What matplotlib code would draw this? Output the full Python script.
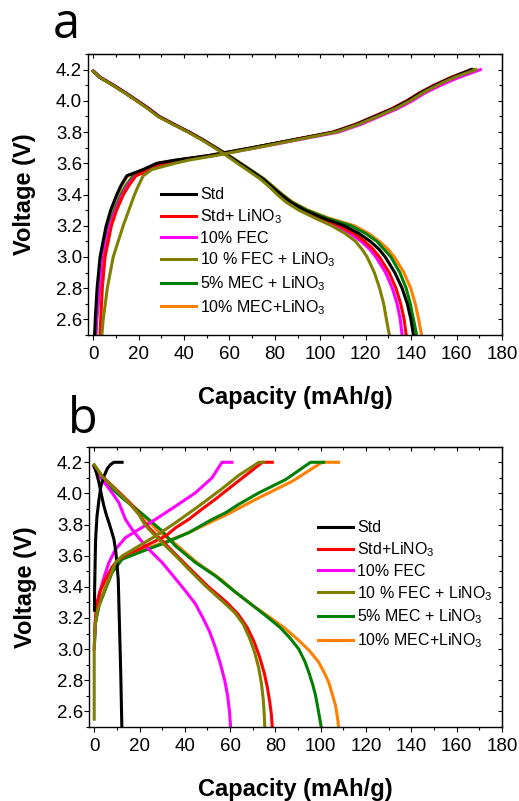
import matplotlib
matplotlib.use('Agg')
import matplotlib.pyplot as plt
from matplotlib.ticker import MultipleLocator

plt.rcParams['font.family'] = ['Liberation Sans', 'DejaVu Sans']
plt.rcParams['mathtext.default'] = 'regular'

# Colours / labels (Origin style)
colors = ['#000000', '#FF0000', '#FF00FF', '#808000', '#008000', '#FF8000']
labels_a = ['Std', 'Std+ LiNO$_3$', '10% FEC', '10 % FEC + LiNO$_3$',
            '5% MEC + LiNO$_3$', '10% MEC+LiNO$_3$']
labels_b = ['Std', 'Std+LiNO$_3$', '10% FEC', '10 % FEC + LiNO$_3$',
            '5% MEC + LiNO$_3$', '10% MEC+LiNO$_3$']

# ---- panel a: charge, capacity (mAh/g) read at shared voltages ----
a_chg_v = [2.5, 2.6, 2.8, 3.0, 3.2, 3.3, 3.4, 3.46, 3.52, 3.56, 3.6, 3.62, 3.65,
           3.7, 3.75, 3.8, 3.85, 3.9, 3.95, 4.0, 4.05, 4.1, 4.15, 4.2]
a_chg_std = [0.6, 0.9, 1.7, 3.0, 5.7, 7.7, 10.4, 12.3, 14.8, 22, 28, 36, 51,
             70, 88, 106, 116, 124, 132, 138.5, 144, 150.6, 158, 166.5]
a_chg_std_lino3 = [3.0, 3.3, 4.0, 5.2, 8.0, 10.3, 13.3, 15.8, 18.8, 25, 31, 38, 52.5,
                   70.5, 88, 105.5, 115.5, 123.5, 131.5, 138, 143.5, 150, 157.5, 166.5]
a_chg_fec = [1.0, 1.4, 2.8, 4.4, 7.3, 9.8, 12.8, 15.2, 18.5, 25, 31, 38.5, 53,
             72, 90, 108, 118, 126, 134, 140.5, 146, 153, 161, 170.5]
a_chg_fec_lino3 = [3.8, 4.4, 6.2, 8.8, 13.2, 15.7, 18.2, 20.0, 22.0, 25.8, 36, 42, 54,
                   72, 89.5, 107, 117, 125, 133, 139.5, 145, 151.5, 159, 168.5]
a_chg_mec5 = [1.2, 1.6, 2.7, 4.1, 7.0, 9.3, 12.2, 14.5, 17.6, 24, 30, 37.5, 52,
              70.5, 88.5, 106.5, 116.5, 124.5, 132.5, 139, 144.5, 151, 158.5, 167.5]
a_chg_mec10 = [0.8, 1.1, 2.0, 3.3, 6.0, 8.0, 10.8, 12.7, 15.2, 22.5, 28.5, 36.5, 51,
               70, 88, 106, 116, 124, 132, 138.5, 144, 150.6, 158, 166.5]

# ---- panel a: discharge ----
a_dis_v = [4.19, 4.15, 4.1, 4.05, 4.0, 3.95, 3.9, 3.85, 3.8, 3.75, 3.7, 3.65, 3.6,
           3.55, 3.5, 3.45, 3.4, 3.35, 3.3, 3.25, 3.2, 3.15, 3.1, 3.05, 3.0,
           2.9, 2.8, 2.7, 2.6, 2.5]
a_dis_std = [0, 3, 8.8, 14.2, 19.3, 24.3, 28.8, 35.3, 42, 48.2, 53.8, 59.3, 64.5,
             69.6, 74.6, 78.6, 82.6, 87, 93, 101, 110.5, 117, 122, 125.8, 128.6,
             132.8, 136, 138.3, 139.9, 141]
a_dis_std_lino3 = [0, 3, 8.8, 14.2, 19.3, 24.3, 28.8, 35.3, 42, 48.2, 53.8, 59.2, 64.3,
                   69.4, 74.3, 78.3, 82.2, 86.5, 92.3, 99.8, 108.5, 114.8, 119.5, 123.2, 126,
                   130.3, 133.3, 135.4, 136.9, 137.8]
a_dis_fec = [0.2, 3.3, 9.1, 14.5, 19.6, 24.6, 29.1, 35.6, 42.3, 48.3, 53.8, 59.1, 64.1,
             69.1, 74, 78, 81.8, 86, 91.5, 99, 107, 113.2, 118, 121.7, 124.5,
             128.7, 131.7, 133.8, 135.2, 136]
a_dis_fec_lino3 = [0, 3, 8.6, 14.0, 19.1, 24, 28.5, 35, 41.7, 47.8, 53.3, 58.6, 63.5,
                   68.5, 73.5, 77.5, 81, 85, 90.5, 97.5, 105, 111, 115.5, 118.3, 120.6,
                   123.8, 126.1, 127.9, 129.1, 130.4]
a_dis_mec5 = [0, 3, 8.8, 14.2, 19.4, 24.5, 29, 35.5, 42.2, 48.4, 54, 59.6, 64.8,
              70, 75.1, 79, 83, 87.5, 94, 102.5, 113.5, 120, 124.9, 128, 131.1,
              135, 137.8, 139.6, 141, 142.4]
a_dis_mec10 = [0, 3, 8.8, 14.2, 19.4, 24.5, 29, 35.5, 42.2, 48.4, 54, 59.7, 65,
               70.2, 75.3, 79.3, 83.4, 88, 94.6, 103.5, 115, 121.3, 126, 129.8, 132.6,
               136.8, 139.8, 141.8, 143.3, 144.6]

# ---- panel b: (capacity, voltage) pairs per cell ----
b_std_chg_c = [0.1, 0.2, 0.4, 0.6, 1.2, 2.1, 3.0, 4.3, 5.8, 7.2, 8.7, 12.3]
b_std_chg_v = [3.25, 3.4, 3.55, 3.7, 3.85, 3.96, 4.05, 4.11, 4.16, 4.185, 4.2, 4.2]
b_std_dis_c = [0, 1.0, 2.1, 3.2, 4.3, 5.4, 6.5, 7.6, 8.7, 9.5, 10.1, 10.6, 11.2, 11.7, 12.2]
b_std_dis_v = [4.175, 4.13, 4.07, 3.99, 3.918, 3.86, 3.812, 3.76, 3.705, 3.63, 3.534,
               3.449, 3.129, 2.85, 2.5]

b_std_lino3_chg_c = [0, 0.3, 1.0, 2.5, 5.0, 8.0, 10.9, 15, 19.7, 25, 31.5, 36, 41.7,
                     47, 53.5, 58, 63.7, 69, 74.2, 78.6]
b_std_lino3_chg_v = [3.0, 3.15, 3.27, 3.37, 3.449, 3.53, 3.577, 3.615, 3.641, 3.68,
                     3.726, 3.78, 3.833, 3.893, 3.963, 4.015, 4.08, 4.14, 4.2, 4.2]
b_std_lino3_dis_c = [0, 3.5, 9.4, 15.3, 19.7, 22, 24.5, 29, 36.5, 42.5, 50, 58.5,
                     63.5, 67.5, 70.5, 73, 75, 76.5, 77.5, 78.2, 78.6]
b_std_lino3_dis_v = [4.18, 4.11, 4.03, 3.945, 3.87, 3.82, 3.775, 3.71, 3.6, 3.513,
                     3.406, 3.3, 3.225, 3.14, 3.05, 2.95, 2.85, 2.75, 2.66, 2.58, 2.5]

b_fec_chg_c = [0.3, 0.6, 1.3, 2.8, 4.5, 6.5, 9.4, 13.8, 19.7, 27, 35.9, 44.7, 52, 56.4, 60.8]
b_fec_chg_v = [3.1, 3.2, 3.3, 3.385, 3.47, 3.556, 3.641, 3.716, 3.769, 3.833, 3.918,
               4.004, 4.1, 4.2, 4.2]
b_fec_dis_c = [0, 3.5, 7.9, 10.9, 13.8, 16.7, 22.6, 30, 36, 40.5, 44.7, 48, 51,
               53.5, 55.8, 57.6, 58.9, 59.7, 60.2]
b_fec_dis_v = [4.166, 4.089, 4.004, 3.94, 3.833, 3.769, 3.662, 3.556, 3.45, 3.37, 3.29,
               3.2, 3.11, 3.01, 2.9, 2.8, 2.7, 2.6, 2.5]

b_fec_lino3_chg_c = [0, 0, 0.4, 1.3, 3.5, 6.5, 9.4, 12.3, 19.7, 27, 35.9, 46.1, 56.4,
                     63.7, 72.7, 74.9]
b_fec_lino3_chg_v = [2.55, 3.0, 3.15, 3.24, 3.34, 3.45, 3.556, 3.598, 3.662, 3.726,
                     3.812, 3.918, 4.03, 4.115, 4.2, 4.2]
b_fec_lino3_dis_c = [0, 3.5, 9.4, 15.3, 19.7, 21.9, 24.1, 28.5, 35.9, 41.7, 49.1, 58,
                     62, 65.8, 68.6, 70.8, 72.6, 73.8, 74.6, 75.0, 75.3]
b_fec_lino3_dis_v = [4.185, 4.11, 4.025, 3.94, 3.865, 3.81, 3.77, 3.705, 3.6, 3.513,
                     3.406, 3.289, 3.235, 3.16, 3.07, 2.98, 2.88, 2.78, 2.68, 2.59, 2.5]

b_mec5_chg_c = [0.2, 0.6, 2.1, 5.0, 7.9, 12.3, 19.7, 31.5, 41.7, 52, 58, 63.7, 72.7,
                84.5, 95.5, 101.3]
b_mec5_chg_v = [3.05, 3.172, 3.278, 3.385, 3.492, 3.577, 3.62, 3.684, 3.748, 3.833,
                3.876, 3.929, 4.004, 4.089, 4.2, 4.2]
b_mec5_dis_c = [0, 5.0, 12.3, 19.7, 24.1, 30, 35.9, 44.7, 53.5, 62, 70, 77, 82, 86.5,
                90.3, 93, 94.7, 96.5, 97.7, 99, 100.2]
b_mec5_dis_v = [4.175, 4.07, 3.972, 3.886, 3.833, 3.758, 3.662, 3.556, 3.47, 3.37,
                3.28, 3.2, 3.14, 3.07, 3.0, 2.92, 2.852, 2.77, 2.702, 2.6, 2.5]

b_mec10_chg_c = [0.2, 0.7, 2.3, 5.0, 7.9, 12.0, 19.7, 31.5, 41.7, 52, 58, 72.7, 87.4,
                 100.6, 107.9]
b_mec10_chg_v = [3.1, 3.2, 3.3, 3.4, 3.5, 3.58, 3.63, 3.69, 3.748, 3.82, 3.86, 3.972,
                 4.078, 4.2, 4.2]
b_mec10_dis_c = [0, 3.5, 7.9, 15, 22, 28, 35.2, 45, 55.8, 62, 70, 77, 84.5, 90, 95,
                 99.1, 101.5, 103.5, 105.3, 106.5, 107.3, 107.9]
b_mec10_dis_v = [4.18, 4.11, 4.046, 3.95, 3.855, 3.76, 3.684, 3.56, 3.45, 3.37, 3.28,
                 3.21, 3.13, 3.06, 2.99, 2.916, 2.85, 2.788, 2.7, 2.638, 2.57, 2.5]

a_chg = [a_chg_std, a_chg_std_lino3, a_chg_fec, a_chg_fec_lino3, a_chg_mec5, a_chg_mec10]
a_dis = [a_dis_std, a_dis_std_lino3, a_dis_fec, a_dis_fec_lino3, a_dis_mec5, a_dis_mec10]
b_curves = [
    (b_std_chg_c, b_std_chg_v, b_std_dis_c, b_std_dis_v),
    (b_std_lino3_chg_c, b_std_lino3_chg_v, b_std_lino3_dis_c, b_std_lino3_dis_v),
    (b_fec_chg_c, b_fec_chg_v, b_fec_dis_c, b_fec_dis_v),
    (b_fec_lino3_chg_c, b_fec_lino3_chg_v, b_fec_lino3_dis_c, b_fec_lino3_dis_v),
    (b_mec5_chg_c, b_mec5_chg_v, b_mec5_dis_c, b_mec5_dis_v),
    (b_mec10_chg_c, b_mec10_chg_v, b_mec10_dis_c, b_mec10_dis_v),
]

fig = plt.figure(figsize=(5.19, 8.01), dpi=100)
ax_a = fig.add_axes([88 / 519, 1 - 335 / 801, 414 / 519, 281 / 801])
ax_b = fig.add_axes([89 / 519, 1 - 727 / 801, 413 / 519, 280.3 / 801])

lw = 2.2
# order drawn so olive ends up on top like the original
order = [5, 4, 2, 1, 0, 3]
for i in order:
    ax_a.plot(a_chg[i], a_chg_v, color=colors[i], lw=lw, label=labels_a[i],
              solid_joinstyle='round')
    ax_a.plot(a_dis[i], a_dis_v, color=colors[i], lw=lw, solid_joinstyle='round')
    cc, cv, dc, dv = b_curves[i]
    ax_b.plot(cc, cv, color=colors[i], lw=lw, label=labels_b[i], solid_joinstyle='round')
    ax_b.plot(dc, dv, color=colors[i], lw=lw, solid_joinstyle='round')


def style_axis(ax):
    ax.set_xlim(-2.3, 180)
    ax.set_ylim(2.5, 4.3)
    ax.xaxis.set_major_locator(MultipleLocator(20))
    ax.xaxis.set_minor_locator(MultipleLocator(10))
    ax.set_yticks([2.6, 2.8, 3.0, 3.2, 3.4, 3.6, 3.8, 4.0, 4.2])
    ax.yaxis.set_minor_locator(MultipleLocator(0.1))
    for s in ax.spines.values():
        s.set_linewidth(1.0)
    ax.tick_params(which='both', direction='out', width=0.8, labelsize=13.5)
    ax.tick_params(axis='x', which='major', length=3.3, pad=4.3)
    ax.tick_params(axis='y', which='major', length=3.3, pad=1)
    ax.tick_params(which='minor', length=2.0)
    ax.set_xlabel('Capacity (mAh/g)', fontsize=17, fontweight='bold', labelpad=17)
    ax.set_ylabel('Voltage (V)', fontsize=17, fontweight='bold', labelpad=14)
    # mirrored ticks on top / right
    sec_x = ax.secondary_xaxis('top')
    sec_x.xaxis.set_major_locator(MultipleLocator(20))
    sec_x.xaxis.set_minor_locator(MultipleLocator(10))
    sec_x.tick_params(which='both', direction='in', width=0.8, labeltop=False)
    sec_x.tick_params(which='major', length=3.0)
    sec_x.tick_params(which='minor', length=2.0)
    sec_y = ax.secondary_yaxis('right')
    sec_y.yaxis.set_major_locator(MultipleLocator(0.2))
    sec_y.yaxis.set_minor_locator(MultipleLocator(0.1))
    sec_y.tick_params(which='both', direction='in', width=0.8, labelright=False)
    sec_y.tick_params(which='major', length=3.0)
    sec_y.tick_params(which='minor', length=2.0)


style_axis(ax_a)
style_axis(ax_b)


def add_legend(ax, labs, anchor):
    handles, labels = ax.get_legend_handles_labels()
    by_label = dict(zip(labels, handles))
    ax.legend([by_label[l] for l in labs], labs, loc='upper left',
              bbox_to_anchor=anchor, frameon=False, fontsize=11.5,
              handlelength=2.2, handletextpad=0.25, labelspacing=0.31,
              borderpad=0, borderaxespad=0)


add_legend(ax_a, labels_a, (0.176, 0.526))
add_legend(ax_b, labels_b, (0.554, 0.737))

fig.text(53 / 519, 1 - 38 / 801, 'a', fontsize=35, family='Open Sans',
         ha='left', va='baseline')
fig.text(68 / 519, 1 - 433 / 801, 'b', fontsize=35, family='Open Sans',
         ha='left', va='baseline')

fig.savefig('out.png', dpi=100)
